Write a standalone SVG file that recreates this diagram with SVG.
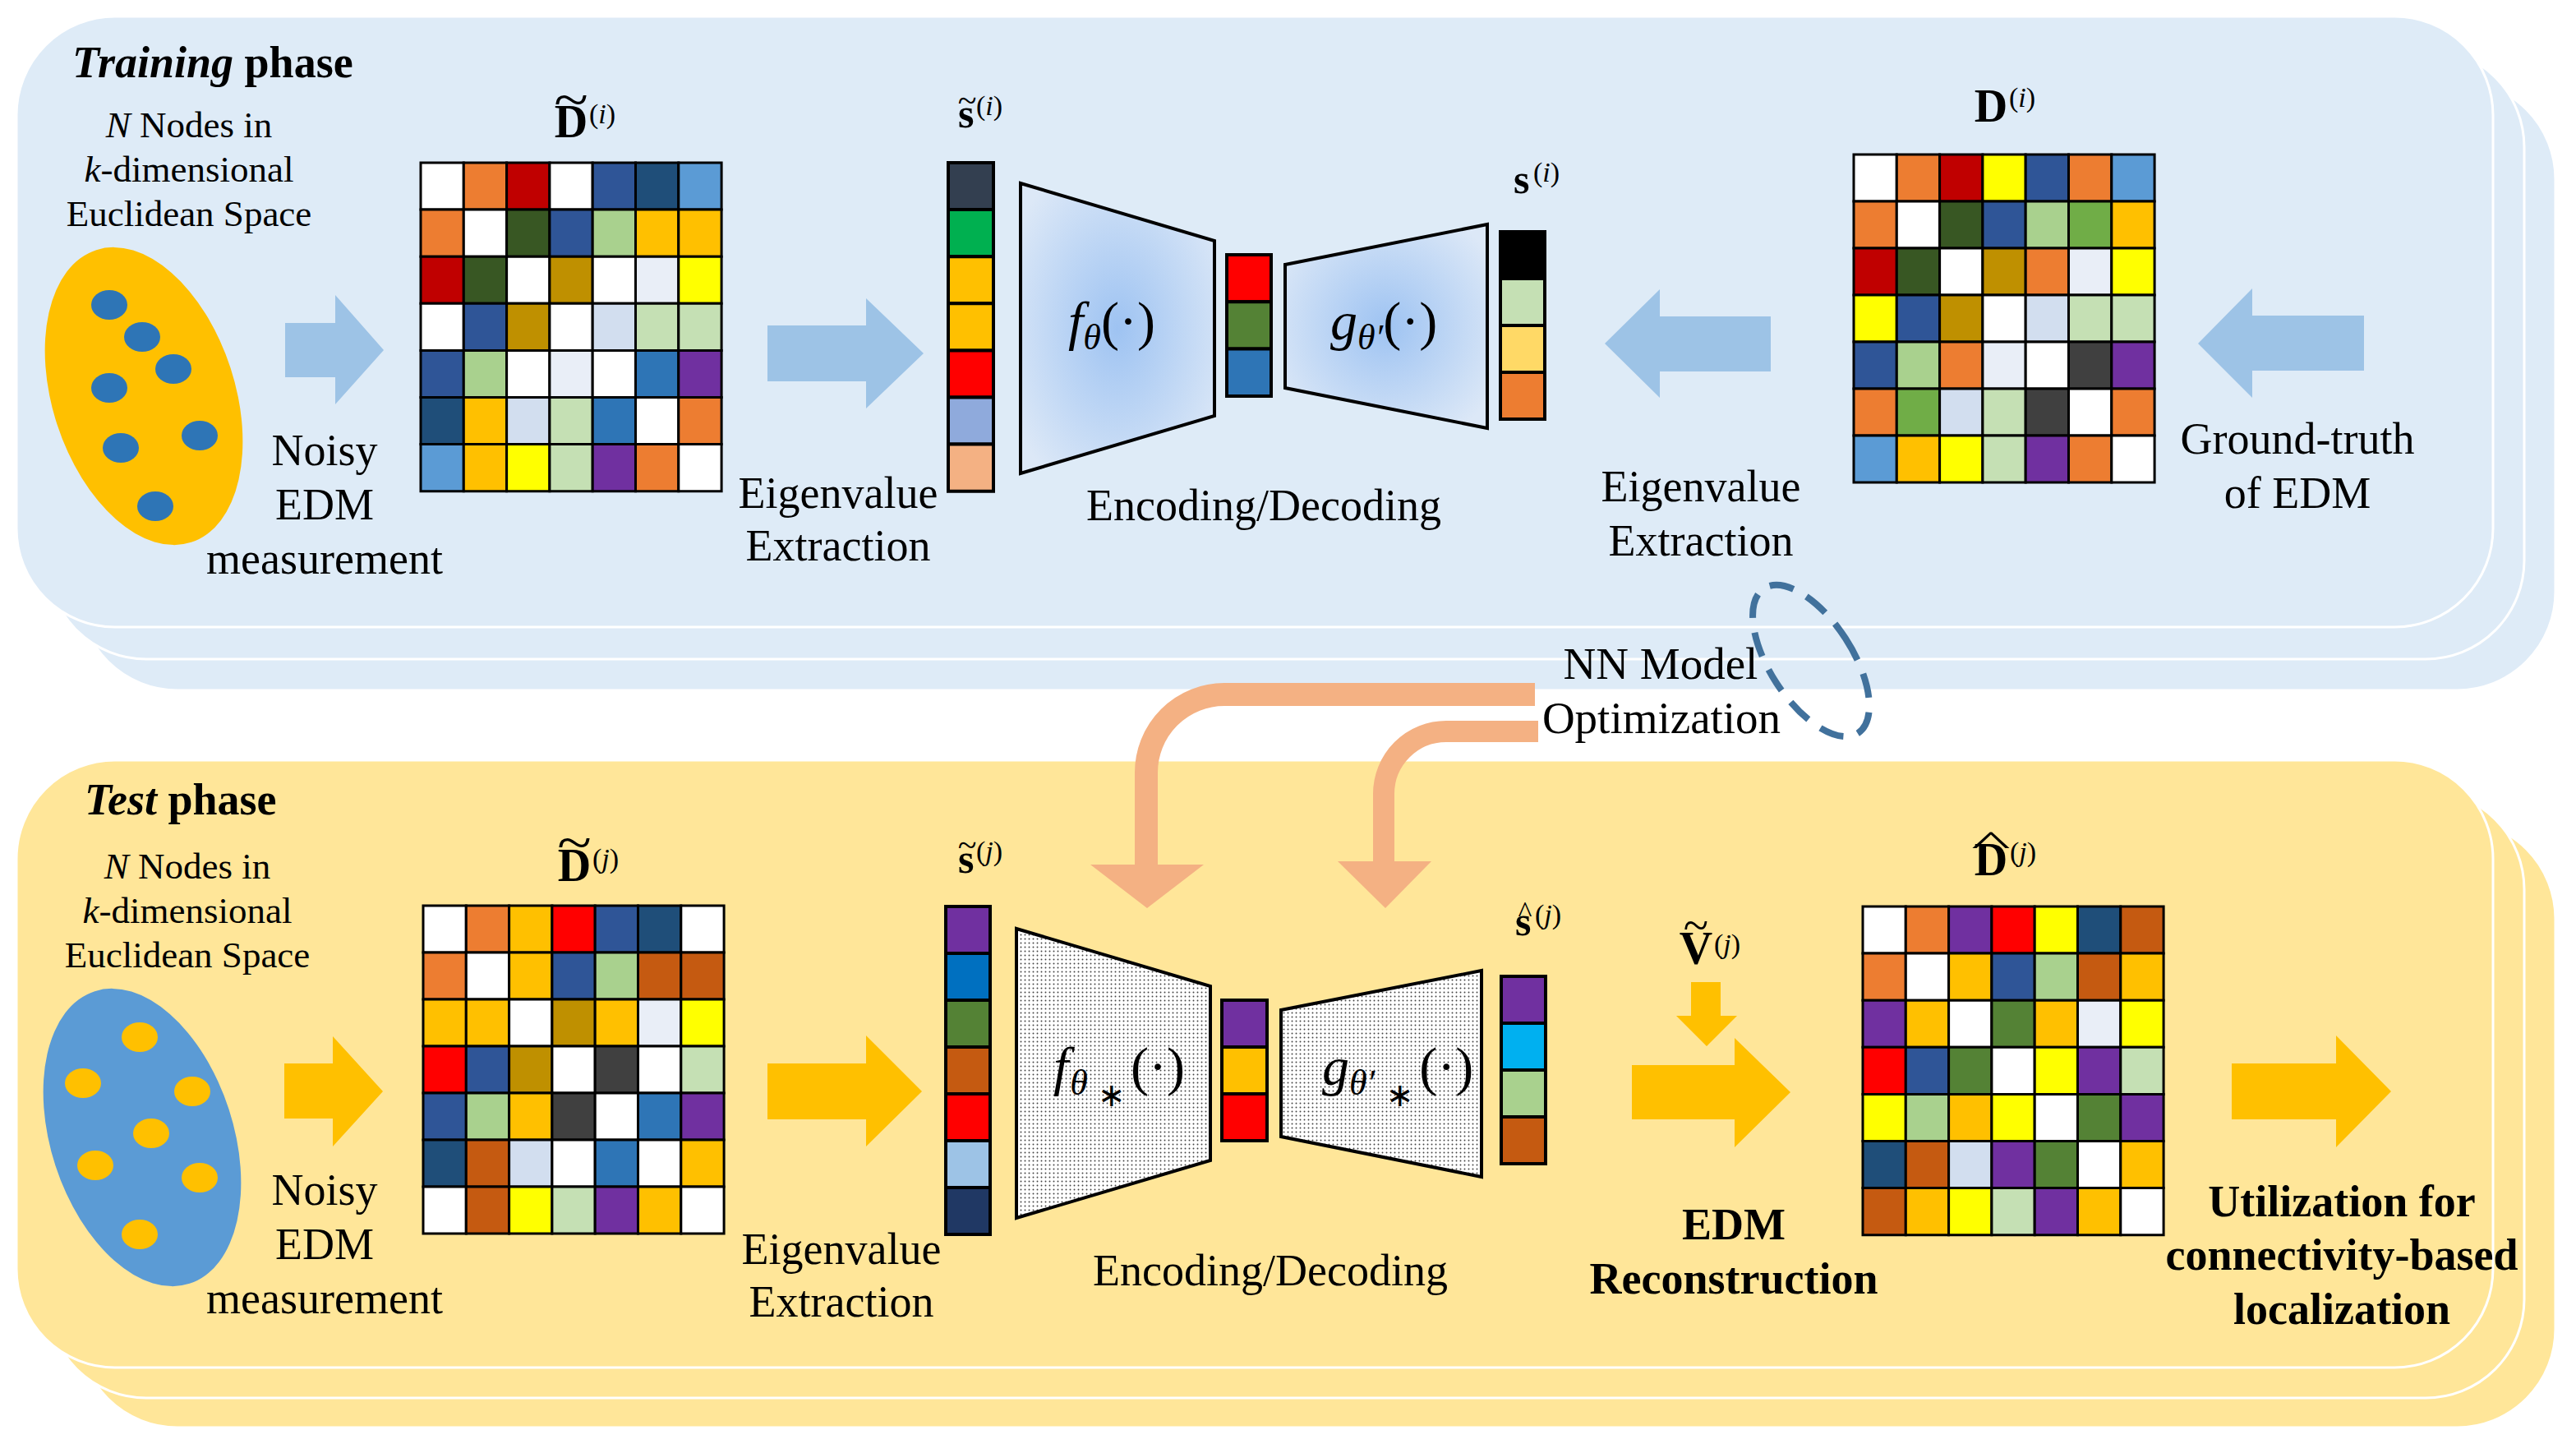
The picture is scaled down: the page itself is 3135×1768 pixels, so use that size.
<svg xmlns="http://www.w3.org/2000/svg" width="3135" height="1768" viewBox="0 0 3135 1768">
<defs>
<style>
text{font-family:"Liberation Serif","Times New Roman",serif;fill:#000}
.c{text-anchor:middle}
.lab{font-size:54px}
.b{font-weight:bold}
.i{font-style:italic}
.sup{font-size:34px}
.cell rect{stroke:#000;stroke-width:3;vector-effect:non-scaling-stroke}
.vec rect{stroke:#000;stroke-width:4;vector-effect:non-scaling-stroke}
.w{fill:#FFFFFF}.or{fill:#ED7D31}.dr{fill:#C00000}.bl{fill:#2F5597}.db{fill:#1F4E79}.lb{fill:#5B9BD5}
.dg{fill:#385723}.lg{fill:#A9D18E}.go{fill:#FFC000}.dgo{fill:#BF9000}.vl{fill:#E9EEF7}.bg{fill:#D2DEEF}
.lg2{fill:#C5E0B4}.mb{fill:#2E75B6}.pu{fill:#7030A0}.ye{fill:#FFFF00}.re{fill:#FF0000}.br{fill:#C55A11}
.gy{fill:#404040}.gr{fill:#70AD47}.mg{fill:#548235}
.ptr{fill:#DEEBF7;stroke:#fff;stroke-width:3}
.pte{fill:#FFE699;stroke:#fff;stroke-width:3}
.abl{fill:#9DC3E6}
.ayl{fill:#FFC000}
.trap{stroke:#000;stroke-width:4}
</style>
<radialGradient id="rg" cx="0.5" cy="0.5" r="0.62">
<stop offset="0" stop-color="#9EC3F2"/>
<stop offset="1" stop-color="#DCE8F7"/>
</radialGradient>
<pattern id="dots" width="5" height="5" patternUnits="userSpaceOnUse">
<rect width="5" height="5" fill="#fff"/>
<circle cx="2.5" cy="2.5" r="0.95" fill="#444"/>
</pattern>
</defs>

<rect width="3135" height="1768" fill="#fff"/>

<!-- panels -->
<g id="training-panel">
<rect class="ptr" x="96" y="98" width="3014" height="742" rx="120"/>
<rect class="ptr" x="58" y="59" width="3014" height="743" rx="120"/>
<rect class="ptr" x="20" y="20" width="3014" height="743" rx="120"/>
</g>
<g id="test-panel">
<rect class="pte" x="96" y="998" width="3014" height="739" rx="120"/>
<rect class="pte" x="58" y="962" width="3014" height="739" rx="120"/>
<rect class="pte" x="20" y="925" width="3014" height="739" rx="120"/>
</g>

<!-- connectors -->
<g id="connectors">
<polygon class="abl" points="347,393 408,393 408,359 467,426 408,492 408,459 347,459"/>
<polygon class="abl" points="934,396 1054,396 1054,363 1124,430 1054,497 1054,464 934,464"/>
<polygon class="abl" points="2155,385 2020,385 2020,352 1953,418 2020,484 2020,452 2155,452"/>
<polygon class="abl" points="2877,384 2741,384 2741,351 2675,418 2741,484 2741,451 2877,451"/>
<polygon class="ayl" points="346,1294 405,1294 405,1261 466,1328 405,1395 405,1361 346,1361"/>
<polygon class="ayl" points="934,1294 1054,1294 1054,1260 1122,1328 1054,1395 1054,1362 934,1362"/>
<polygon class="ayl" points="1986,1296 2111,1296 2111,1263 2179,1329 2111,1396 2111,1362 1986,1362"/>
<polygon class="ayl" points="2058,1195 2094,1195 2094,1236 2114,1236 2077,1273 2040,1236 2058,1236"/>
<polygon class="ayl" points="2716,1294 2843,1294 2843,1260 2910,1328 2843,1396 2843,1362 2716,1362"/>
<path d="M1868,845 H1490 A95,95 0 0 0 1395,940 V1053" fill="none" stroke="#F4B183" stroke-width="28"/>
<polygon fill="#F4B183" points="1327,1052 1465,1052 1396,1105"/>
<path d="M1872,890 H1760 A76,76 0 0 0 1684,966 V1049" fill="none" stroke="#F4B183" stroke-width="26"/>
<polygon fill="#F4B183" points="1628,1048 1742,1048 1686,1105"/>
<ellipse cx="2204" cy="804" rx="50" ry="105" transform="rotate(-33 2204 804)" fill="none" stroke="#41719C" stroke-width="8" stroke-dasharray="30 18"/>
</g>

<!-- training phase -->
<g id="training-title">
<text x="88" y="94" font-size="54" class="b"><tspan class="i">Training</tspan> phase</text>
</g>
<g id="train-nodes">
<text class="c" x="230" y="167" font-size="45"><tspan class="i">N</tspan> Nodes in</text>
<text class="c" x="230" y="221" font-size="45"><tspan class="i">k</tspan>-dimensional</text>
<text class="c" x="230" y="275" font-size="45">Euclidean Space</text>
<ellipse cx="175" cy="482" rx="111" ry="187" transform="rotate(-18 175 482)" fill="#FFC000"/>
<g fill="#2E75B6">
<ellipse cx="133" cy="371" rx="22" ry="18"/>
<ellipse cx="173" cy="410" rx="22" ry="18"/>
<ellipse cx="211" cy="449" rx="22" ry="18"/>
<ellipse cx="133" cy="472" rx="22" ry="18"/>
<ellipse cx="243" cy="530" rx="22" ry="18"/>
<ellipse cx="147" cy="545" rx="22" ry="18"/>
<ellipse cx="189" cy="616" rx="22" ry="18"/>
</g>
</g>
<g id="train-noisy-label">
<text class="c lab" x="395" y="566">Noisy</text>
<text class="c lab" x="395" y="632">EDM</text>
<text class="c lab" x="395" y="698">measurement</text>
</g>

<g id="train-Dtilde">
<text class="c" x="695" y="143" font-size="64" transform="translate(695 0) scale(1.2 1) translate(-695 0)">~</text>
<text class="c b" x="695" y="167" font-size="56">D</text>
<text class="sup" x="717" y="150">(<tspan class="i">i</tspan>)</text>
<g class="cell" transform="translate(512 198) scale(52.3 57.1)">
<rect x="0" y="0" width="1" height="1" class="w"/><rect x="1" y="0" width="1" height="1" class="or"/><rect x="2" y="0" width="1" height="1" class="dr"/><rect x="3" y="0" width="1" height="1" class="w"/><rect x="4" y="0" width="1" height="1" class="bl"/><rect x="5" y="0" width="1" height="1" class="db"/><rect x="6" y="0" width="1" height="1" class="lb"/>
<rect x="0" y="1" width="1" height="1" class="or"/><rect x="1" y="1" width="1" height="1" class="w"/><rect x="2" y="1" width="1" height="1" class="dg"/><rect x="3" y="1" width="1" height="1" class="bl"/><rect x="4" y="1" width="1" height="1" class="lg"/><rect x="5" y="1" width="1" height="1" class="go"/><rect x="6" y="1" width="1" height="1" class="go"/>
<rect x="0" y="2" width="1" height="1" class="dr"/><rect x="1" y="2" width="1" height="1" class="dg"/><rect x="2" y="2" width="1" height="1" class="w"/><rect x="3" y="2" width="1" height="1" class="dgo"/><rect x="4" y="2" width="1" height="1" class="w"/><rect x="5" y="2" width="1" height="1" class="vl"/><rect x="6" y="2" width="1" height="1" class="ye"/>
<rect x="0" y="3" width="1" height="1" class="w"/><rect x="1" y="3" width="1" height="1" class="bl"/><rect x="2" y="3" width="1" height="1" class="dgo"/><rect x="3" y="3" width="1" height="1" class="w"/><rect x="4" y="3" width="1" height="1" class="bg"/><rect x="5" y="3" width="1" height="1" class="lg2"/><rect x="6" y="3" width="1" height="1" class="lg2"/>
<rect x="0" y="4" width="1" height="1" class="bl"/><rect x="1" y="4" width="1" height="1" class="lg"/><rect x="2" y="4" width="1" height="1" class="w"/><rect x="3" y="4" width="1" height="1" class="vl"/><rect x="4" y="4" width="1" height="1" class="w"/><rect x="5" y="4" width="1" height="1" class="mb"/><rect x="6" y="4" width="1" height="1" class="pu"/>
<rect x="0" y="5" width="1" height="1" class="db"/><rect x="1" y="5" width="1" height="1" class="go"/><rect x="2" y="5" width="1" height="1" class="bg"/><rect x="3" y="5" width="1" height="1" class="lg2"/><rect x="4" y="5" width="1" height="1" class="mb"/><rect x="5" y="5" width="1" height="1" class="w"/><rect x="6" y="5" width="1" height="1" class="or"/>
<rect x="0" y="6" width="1" height="1" class="lb"/><rect x="1" y="6" width="1" height="1" class="go"/><rect x="2" y="6" width="1" height="1" class="ye"/><rect x="3" y="6" width="1" height="1" class="lg2"/><rect x="4" y="6" width="1" height="1" class="pu"/><rect x="5" y="6" width="1" height="1" class="or"/><rect x="6" y="6" width="1" height="1" class="w"/>
</g>
</g>

<g id="train-eig-left">
<text class="c lab" x="1020" y="618">Eigenvalue</text>
<text class="c lab" x="1020" y="682">Extraction</text>
</g>

<g id="train-stilde">
<text class="c" x="1177" y="136" font-size="42">~</text>
<text class="b" x="1166" y="155" font-size="50">s</text>
<text class="sup" x="1188" y="140">(<tspan class="i">i</tspan>)</text>
<g class="vec" transform="translate(1154 198) scale(55 57.1)">
<rect x="0" y="0" width="1" height="1" fill="#333F50"/>
<rect x="0" y="1" width="1" height="1" fill="#00B050"/>
<rect x="0" y="2" width="1" height="1" fill="#FFC000"/>
<rect x="0" y="3" width="1" height="1" fill="#FFC000"/>
<rect x="0" y="4" width="1" height="1" fill="#FF0000"/>
<rect x="0" y="5" width="1" height="1" fill="#8FAADC"/>
<rect x="0" y="6" width="1" height="1" fill="#F4B183"/>
</g>
</g>

<g id="train-encoder">
<polygon class="trap" fill="url(#rg)" points="1242,223 1478,293 1478,506 1242,576"/>
<text x="1300" y="413" font-size="66"><tspan class="i">f</tspan><tspan class="i" font-size="44" dy="12">θ</tspan><tspan dy="-12">(·)</tspan></text>
</g>
<g id="train-latent">
<g class="vec" transform="translate(1493 310) scale(54 57.3)">
<rect x="0" y="0" width="1" height="1" fill="#FF0000"/>
<rect x="0" y="1" width="1" height="1" fill="#548235"/>
<rect x="0" y="2" width="1" height="1" fill="#2E75B6"/>
</g>
</g>
<g id="train-decoder">
<polygon class="trap" fill="url(#rg)" points="1564,322 1810,273 1810,521 1564,472"/>
<text x="1619" y="413" font-size="66"><tspan class="i">g</tspan><tspan class="i" font-size="44" dy="12">θ′</tspan><tspan dy="-12">(·)</tspan></text>
</g>
<g id="train-enc-label">
<text class="c lab" x="1538" y="633">Encoding/Decoding</text>
</g>

<g id="train-s">
<text class="b" x="1842" y="235" font-size="50">s</text>
<text class="sup" x="1866" y="221">(<tspan class="i">i</tspan>)</text>
<g class="vec" transform="translate(1826 282) scale(54 57)">
<rect x="0" y="0" width="1" height="1" fill="#000000"/>
<rect x="0" y="1" width="1" height="1" fill="#C5E0B4"/>
<rect x="0" y="2" width="1" height="1" fill="#FFD966"/>
<rect x="0" y="3" width="1" height="1" fill="#ED7D31"/>
</g>
</g>

<g id="train-eig-right">
<text class="c lab" x="2070" y="610">Eigenvalue</text>
<text class="c lab" x="2070" y="676">Extraction</text>
</g>

<g id="train-D">
<text class="c b" x="2423" y="148" font-size="56">D</text>
<text class="sup" x="2445" y="130">(<tspan class="i">i</tspan>)</text>
<g class="cell" transform="translate(2256 188) scale(52.3 57)">
<rect x="0" y="0" width="1" height="1" class="w"/><rect x="1" y="0" width="1" height="1" class="or"/><rect x="2" y="0" width="1" height="1" class="dr"/><rect x="3" y="0" width="1" height="1" class="ye"/><rect x="4" y="0" width="1" height="1" class="bl"/><rect x="5" y="0" width="1" height="1" class="or"/><rect x="6" y="0" width="1" height="1" class="lb"/>
<rect x="0" y="1" width="1" height="1" class="or"/><rect x="1" y="1" width="1" height="1" class="w"/><rect x="2" y="1" width="1" height="1" class="dg"/><rect x="3" y="1" width="1" height="1" class="bl"/><rect x="4" y="1" width="1" height="1" class="lg"/><rect x="5" y="1" width="1" height="1" class="gr"/><rect x="6" y="1" width="1" height="1" class="go"/>
<rect x="0" y="2" width="1" height="1" class="dr"/><rect x="1" y="2" width="1" height="1" class="dg"/><rect x="2" y="2" width="1" height="1" class="w"/><rect x="3" y="2" width="1" height="1" class="dgo"/><rect x="4" y="2" width="1" height="1" class="or"/><rect x="5" y="2" width="1" height="1" class="vl"/><rect x="6" y="2" width="1" height="1" class="ye"/>
<rect x="0" y="3" width="1" height="1" class="ye"/><rect x="1" y="3" width="1" height="1" class="bl"/><rect x="2" y="3" width="1" height="1" class="dgo"/><rect x="3" y="3" width="1" height="1" class="w"/><rect x="4" y="3" width="1" height="1" class="bg"/><rect x="5" y="3" width="1" height="1" class="lg2"/><rect x="6" y="3" width="1" height="1" class="lg2"/>
<rect x="0" y="4" width="1" height="1" class="bl"/><rect x="1" y="4" width="1" height="1" class="lg"/><rect x="2" y="4" width="1" height="1" class="or"/><rect x="3" y="4" width="1" height="1" class="vl"/><rect x="4" y="4" width="1" height="1" class="w"/><rect x="5" y="4" width="1" height="1" class="gy"/><rect x="6" y="4" width="1" height="1" class="pu"/>
<rect x="0" y="5" width="1" height="1" class="or"/><rect x="1" y="5" width="1" height="1" class="gr"/><rect x="2" y="5" width="1" height="1" class="bg"/><rect x="3" y="5" width="1" height="1" class="lg2"/><rect x="4" y="5" width="1" height="1" class="gy"/><rect x="5" y="5" width="1" height="1" class="w"/><rect x="6" y="5" width="1" height="1" class="or"/>
<rect x="0" y="6" width="1" height="1" class="lb"/><rect x="1" y="6" width="1" height="1" class="go"/><rect x="2" y="6" width="1" height="1" class="ye"/><rect x="3" y="6" width="1" height="1" class="lg2"/><rect x="4" y="6" width="1" height="1" class="pu"/><rect x="5" y="6" width="1" height="1" class="or"/><rect x="6" y="6" width="1" height="1" class="w"/>
</g>
</g>

<g id="train-gt-label">
<text class="c lab" x="2796" y="552">Ground-truth</text>
<text class="c lab" x="2796" y="618">of EDM</text>
</g>

<g id="nn-opt-label">
<text class="c" x="2021" y="826" font-size="55">NN Model</text>
<text class="c" x="2022" y="892" font-size="55">Optimization</text>
</g>

<!-- test phase -->
<g id="test-title">
<text x="103" y="991" font-size="54" class="b"><tspan class="i">Test</tspan> phase</text>
</g>
<g id="test-nodes">
<text class="c" x="228" y="1069" font-size="45"><tspan class="i">N</tspan> Nodes in</text>
<text class="c" x="228" y="1123" font-size="45"><tspan class="i">k</tspan>-dimensional</text>
<text class="c" x="228" y="1177" font-size="45">Euclidean Space</text>
<ellipse cx="173" cy="1384" rx="111" ry="187" transform="rotate(-18 173 1384)" fill="#5B9BD5"/>
<g fill="#FFC000">
<ellipse cx="170" cy="1262" rx="22" ry="18"/>
<ellipse cx="101" cy="1318" rx="22" ry="18"/>
<ellipse cx="234" cy="1328" rx="22" ry="18"/>
<ellipse cx="184" cy="1379" rx="22" ry="18"/>
<ellipse cx="116" cy="1418" rx="22" ry="18"/>
<ellipse cx="243" cy="1433" rx="22" ry="18"/>
<ellipse cx="170" cy="1502" rx="22" ry="18"/>
</g>
</g>
<g id="test-noisy-label">
<text class="c lab" x="395" y="1466">Noisy</text>
<text class="c lab" x="395" y="1532">EDM</text>
<text class="c lab" x="395" y="1598">measurement</text>
</g>

<g id="test-Dtilde">
<text class="c" x="699" y="1047" font-size="64" transform="translate(699 0) scale(1.2 1) translate(-699 0)">~</text>
<text class="c b" x="699" y="1072" font-size="56">D</text>
<text class="sup" x="721" y="1056">(<tspan class="i">j</tspan>)</text>
<g class="cell" transform="translate(515 1102) scale(52.3 57)">
<rect x="0" y="0" width="1" height="1" class="w"/><rect x="1" y="0" width="1" height="1" class="or"/><rect x="2" y="0" width="1" height="1" class="go"/><rect x="3" y="0" width="1" height="1" class="re"/><rect x="4" y="0" width="1" height="1" class="bl"/><rect x="5" y="0" width="1" height="1" class="db"/><rect x="6" y="0" width="1" height="1" class="w"/>
<rect x="0" y="1" width="1" height="1" class="or"/><rect x="1" y="1" width="1" height="1" class="w"/><rect x="2" y="1" width="1" height="1" class="go"/><rect x="3" y="1" width="1" height="1" class="bl"/><rect x="4" y="1" width="1" height="1" class="lg"/><rect x="5" y="1" width="1" height="1" class="br"/><rect x="6" y="1" width="1" height="1" class="br"/>
<rect x="0" y="2" width="1" height="1" class="go"/><rect x="1" y="2" width="1" height="1" class="go"/><rect x="2" y="2" width="1" height="1" class="w"/><rect x="3" y="2" width="1" height="1" class="dgo"/><rect x="4" y="2" width="1" height="1" class="go"/><rect x="5" y="2" width="1" height="1" class="vl"/><rect x="6" y="2" width="1" height="1" class="ye"/>
<rect x="0" y="3" width="1" height="1" class="re"/><rect x="1" y="3" width="1" height="1" class="bl"/><rect x="2" y="3" width="1" height="1" class="dgo"/><rect x="3" y="3" width="1" height="1" class="w"/><rect x="4" y="3" width="1" height="1" class="gy"/><rect x="5" y="3" width="1" height="1" class="w"/><rect x="6" y="3" width="1" height="1" class="lg2"/>
<rect x="0" y="4" width="1" height="1" class="bl"/><rect x="1" y="4" width="1" height="1" class="lg"/><rect x="2" y="4" width="1" height="1" class="go"/><rect x="3" y="4" width="1" height="1" class="gy"/><rect x="4" y="4" width="1" height="1" class="w"/><rect x="5" y="4" width="1" height="1" class="mb"/><rect x="6" y="4" width="1" height="1" class="pu"/>
<rect x="0" y="5" width="1" height="1" class="db"/><rect x="1" y="5" width="1" height="1" class="br"/><rect x="2" y="5" width="1" height="1" class="bg"/><rect x="3" y="5" width="1" height="1" class="w"/><rect x="4" y="5" width="1" height="1" class="mb"/><rect x="5" y="5" width="1" height="1" class="w"/><rect x="6" y="5" width="1" height="1" class="go"/>
<rect x="0" y="6" width="1" height="1" class="w"/><rect x="1" y="6" width="1" height="1" class="br"/><rect x="2" y="6" width="1" height="1" class="ye"/><rect x="3" y="6" width="1" height="1" class="lg2"/><rect x="4" y="6" width="1" height="1" class="pu"/><rect x="5" y="6" width="1" height="1" class="go"/><rect x="6" y="6" width="1" height="1" class="w"/>
</g>
</g>

<g id="test-eig-label">
<text class="c lab" x="1024" y="1538">Eigenvalue</text>
<text class="c lab" x="1024" y="1602">Extraction</text>
</g>

<g id="test-stilde">
<text class="c" x="1177" y="1042" font-size="42">~</text>
<text class="b" x="1166" y="1062" font-size="50">s</text>
<text class="sup" x="1188" y="1047">(<tspan class="i">j</tspan>)</text>
<g class="vec" transform="translate(1151 1103) scale(54 57)">
<rect x="0" y="0" width="1" height="1" fill="#7030A0"/>
<rect x="0" y="1" width="1" height="1" fill="#0070C0"/>
<rect x="0" y="2" width="1" height="1" fill="#548235"/>
<rect x="0" y="3" width="1" height="1" fill="#C55A11"/>
<rect x="0" y="4" width="1" height="1" fill="#FF0000"/>
<rect x="0" y="5" width="1" height="1" fill="#9DC3E6"/>
<rect x="0" y="6" width="1" height="1" fill="#203864"/>
</g>
</g>

<g id="test-encoder">
<polygon class="trap" fill="url(#dots)" points="1237,1130 1473,1200 1473,1412 1237,1482"/>
<text x="1282" y="1320" font-size="66"><tspan class="i">f</tspan><tspan class="i" font-size="44" dx="2" dy="12">θ</tspan><tspan font-size="40" dx="12" dy="14">∗</tspan><tspan dx="6" dy="-26">(·)</tspan></text>
</g>
<g id="test-latent">
<g class="vec" transform="translate(1487 1217) scale(55 57)">
<rect x="0" y="0" width="1" height="1" fill="#7030A0"/>
<rect x="0" y="1" width="1" height="1" fill="#FFC000"/>
<rect x="0" y="2" width="1" height="1" fill="#FF0000"/>
</g>
</g>
<g id="test-decoder">
<polygon class="trap" fill="url(#dots)" points="1559,1229 1803,1181 1803,1432 1559,1383"/>
<text x="1609" y="1320" font-size="66"><tspan class="i">g</tspan><tspan class="i" font-size="44" dy="12">θ′</tspan><tspan font-size="40" dx="14" dy="14">∗</tspan><tspan dx="6" dy="-26">(·)</tspan></text>
</g>
<g id="test-enc-label">
<text class="c lab" x="1546" y="1564">Encoding/Decoding</text>
</g>

<g id="test-shat">
<text class="c" x="1856" y="1122" font-size="36">^</text>
<text class="b" x="1844" y="1138" font-size="50">s</text>
<text class="sup" x="1868" y="1124">(<tspan class="i">j</tspan>)</text>
<g class="vec" transform="translate(1827 1188) scale(54 57)">
<rect x="0" y="0" width="1" height="1" fill="#7030A0"/>
<rect x="0" y="1" width="1" height="1" fill="#00B0F0"/>
<rect x="0" y="2" width="1" height="1" fill="#A9D18E"/>
<rect x="0" y="3" width="1" height="1" fill="#C55A11"/>
</g>
</g>

<g id="test-Vtilde">
<text class="c" x="2064" y="1145" font-size="56">~</text>
<text class="c b" x="2064" y="1173" font-size="56">V</text>
<text class="sup" x="2086" y="1160">(<tspan class="i">j</tspan>)</text>
</g>

<g id="test-recon-label">
<text class="c lab b" x="2110" y="1508">EDM</text>
<text class="c lab b" x="2110" y="1574">Reconstruction</text>
</g>

<g id="test-Dhat">
<text class="c" x="0" y="0" font-size="60" transform="translate(2423 1040) scale(1.7 0.7)">^</text>
<text class="c b" x="2423" y="1065" font-size="56">D</text>
<text class="sup" x="2446" y="1048">(<tspan class="i">j</tspan>)</text>
<g class="cell" transform="translate(2267 1103) scale(52.3 57.1)">
<rect x="0" y="0" width="1" height="1" class="w"/><rect x="1" y="0" width="1" height="1" class="or"/><rect x="2" y="0" width="1" height="1" class="pu"/><rect x="3" y="0" width="1" height="1" class="re"/><rect x="4" y="0" width="1" height="1" class="ye"/><rect x="5" y="0" width="1" height="1" class="db"/><rect x="6" y="0" width="1" height="1" class="br"/>
<rect x="0" y="1" width="1" height="1" class="or"/><rect x="1" y="1" width="1" height="1" class="w"/><rect x="2" y="1" width="1" height="1" class="go"/><rect x="3" y="1" width="1" height="1" class="bl"/><rect x="4" y="1" width="1" height="1" class="lg"/><rect x="5" y="1" width="1" height="1" class="br"/><rect x="6" y="1" width="1" height="1" class="go"/>
<rect x="0" y="2" width="1" height="1" class="pu"/><rect x="1" y="2" width="1" height="1" class="go"/><rect x="2" y="2" width="1" height="1" class="w"/><rect x="3" y="2" width="1" height="1" class="mg"/><rect x="4" y="2" width="1" height="1" class="go"/><rect x="5" y="2" width="1" height="1" class="vl"/><rect x="6" y="2" width="1" height="1" class="ye"/>
<rect x="0" y="3" width="1" height="1" class="re"/><rect x="1" y="3" width="1" height="1" class="bl"/><rect x="2" y="3" width="1" height="1" class="mg"/><rect x="3" y="3" width="1" height="1" class="w"/><rect x="4" y="3" width="1" height="1" class="ye"/><rect x="5" y="3" width="1" height="1" class="pu"/><rect x="6" y="3" width="1" height="1" class="lg2"/>
<rect x="0" y="4" width="1" height="1" class="ye"/><rect x="1" y="4" width="1" height="1" class="lg"/><rect x="2" y="4" width="1" height="1" class="go"/><rect x="3" y="4" width="1" height="1" class="ye"/><rect x="4" y="4" width="1" height="1" class="w"/><rect x="5" y="4" width="1" height="1" class="mg"/><rect x="6" y="4" width="1" height="1" class="pu"/>
<rect x="0" y="5" width="1" height="1" class="db"/><rect x="1" y="5" width="1" height="1" class="br"/><rect x="2" y="5" width="1" height="1" class="bg"/><rect x="3" y="5" width="1" height="1" class="pu"/><rect x="4" y="5" width="1" height="1" class="mg"/><rect x="5" y="5" width="1" height="1" class="w"/><rect x="6" y="5" width="1" height="1" class="go"/>
<rect x="0" y="6" width="1" height="1" class="br"/><rect x="1" y="6" width="1" height="1" class="go"/><rect x="2" y="6" width="1" height="1" class="ye"/><rect x="3" y="6" width="1" height="1" class="lg2"/><rect x="4" y="6" width="1" height="1" class="pu"/><rect x="5" y="6" width="1" height="1" class="go"/><rect x="6" y="6" width="1" height="1" class="w"/>
</g>
</g>

<g id="test-util-label">
<text class="c lab b" x="2850" y="1480">Utilization for</text>
<text class="c lab b" x="2850" y="1545">connectivity-based</text>
<text class="c lab b" x="2850" y="1611">localization</text>
</g>
</svg>
